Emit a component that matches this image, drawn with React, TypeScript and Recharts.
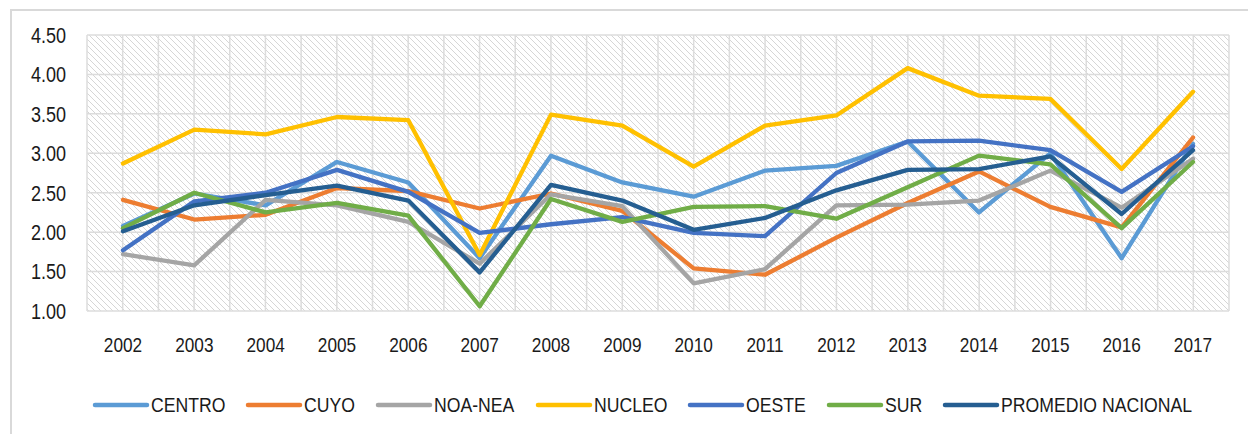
import React from "react";
import { LineChart, Line, XAxis, YAxis, CartesianGrid, Legend } from "recharts";

const YEARS = ["2002", "2003", "2004", "2005", "2006", "2007", "2008", "2009", "2010", "2011", "2012", "2013", "2014", "2015", "2016", "2017"];

const CENTRO = [2.08, 2.49, 2.34, 2.89, 2.63, 1.67, 2.97, 2.63, 2.45, 2.78, 2.84, 3.15, 2.25, 3.0, 1.67, 3.12];
const CUYO = [2.41, 2.16, 2.22, 2.56, 2.52, 2.3, 2.49, 2.27, 1.54, 1.46, 1.93, 2.37, 2.77, 2.32, 2.06, 3.2];
const NOA_NEA = [1.72, 1.58, 2.41, 2.34, 2.13, 1.6, 2.48, 2.33, 1.35, 1.53, 2.34, 2.35, 2.4, 2.78, 2.31, 2.93];
const NUCLEO = [2.87, 3.3, 3.24, 3.46, 3.42, 1.71, 3.49, 3.35, 2.83, 3.35, 3.48, 4.08, 3.73, 3.69, 2.8, 3.78];
const OESTE = [1.77, 2.39, 2.5, 2.79, 2.51, 1.99, 2.1, 2.19, 1.99, 1.95, 2.75, 3.15, 3.16, 3.04, 2.51, 3.09];
const SUR = [2.05, 2.5, 2.25, 2.37, 2.21, 1.06, 2.42, 2.13, 2.32, 2.33, 2.17, 2.57, 2.97, 2.86, 2.05, 2.89];
const PROMEDIO = [2.01, 2.34, 2.47, 2.59, 2.4, 1.49, 2.6, 2.4, 2.03, 2.18, 2.53, 2.79, 2.8, 2.96, 2.23, 3.04];

const Y_TICKS = [1, 1.5, 2, 2.5, 3, 3.5, 4, 4.5];

const SERIES = [
  { key: "CENTRO", label: "CENTRO", values: CENTRO, color: "#5B9BD5" },
  { key: "CUYO", label: "CUYO", values: CUYO, color: "#ED7D31" },
  { key: "NOA_NEA", label: "NOA-NEA", values: NOA_NEA, color: "#A5A5A5" },
  { key: "NUCLEO", label: "NUCLEO", values: NUCLEO, color: "#FFC000" },
  { key: "OESTE", label: "OESTE", values: OESTE, color: "#4472C4" },
  { key: "SUR", label: "SUR", values: SUR, color: "#70AD47" },
  { key: "PROMEDIO", label: "PROMEDIO NACIONAL", values: PROMEDIO, color: "#255E91" },
];

const data = YEARS.map((year, i) => {
  const row: Record<string, string | number> = { year };
  SERIES.forEach((s) => {
    row[s.key] = s.values[i];
  });
  return row;
});

// no narrow font installed, so squeeze Liberation Sans horizontally
const FONT = '"Liberation Sans", Arial, sans-serif';
const SQUEEZE = 0.82;
const LEGEND_SQUEEZE = 0.84;
const GRID = "#DCDCDC";
const TEXT = "#1a1a1a";

let measureCtx: CanvasRenderingContext2D | null = null;
function textWidth(s: string, size: number) {
  if (!measureCtx) measureCtx = document.createElement("canvas").getContext("2d");
  if (!measureCtx) return s.length * size * 0.6;
  measureCtx.font = `${size}px ${FONT}`;
  return measureCtx.measureText(s).width;
}

function XTick({ x, y, payload }: any) {
  return (
    <g transform={`translate(${x},${y + 25}) scale(${SQUEEZE},1)`}>
      <text x={0} y={0} dy="0.36em" textAnchor="middle" fontFamily={FONT} fontSize={21} fill={TEXT}>
        {payload.value}
      </text>
    </g>
  );
}

function YTick({ x, y, payload }: any) {
  return (
    <g transform={`translate(${x},${y}) scale(${SQUEEZE},1)`}>
      <text x={0} y={0} dy="0.36em" textAnchor="end" fontFamily={FONT} fontSize={22} fill={TEXT}>
        {Number(payload.value).toFixed(2)}
      </text>
    </g>
  );
}

function LegendContent() {
  const size = 21;
  return (
    <div style={{ display: "flex", alignItems: "center", paddingLeft: 92, fontFamily: FONT, fontSize: size, color: TEXT, height: 24 }}>
      {SERIES.map((s) => {
        const w = textWidth(s.label, size) * LEGEND_SQUEEZE;
        return (
          <div key={s.key} style={{ display: "flex", alignItems: "center", marginRight: 20 }}>
            <svg width={59} height={8} style={{ display: "block" }}>
              <line x1={3} y1={4} x2={55} y2={4} stroke={s.color} strokeWidth={4.5} strokeLinecap="round" />
            </svg>
            <div style={{ width: w, height: 24, position: "relative" }}>
              <span
                style={{
                  position: "absolute",
                  left: 0,
                  top: 0,
                  lineHeight: "24px",
                  whiteSpace: "nowrap",
                  transform: `scaleX(${LEGEND_SQUEEZE})`,
                  transformOrigin: "left center",
                }}
              >
                {s.label}
              </span>
            </div>
          </div>
        );
      })}
    </div>
  );
}

export default function App() {
  return (
    <div style={{ position: "absolute", left: 0, top: 0, width: 1248, height: 434, background: "#fff", overflow: "hidden" }}>
      <div
        style={{
          position: "absolute",
          left: 10,
          top: 9,
          width: 1300,
          height: 500,
          borderLeft: "2px solid #D9D9D9",
          borderTop: "2px solid #D9D9D9",
        }}
      />
      <div style={{ position: "absolute", left: 0, top: 0 }}>
        <LineChart width={1248} height={434} data={data} margin={{ top: 35, right: 19, left: 0, bottom: 93 }}>
          <defs>
            <pattern id="hatch" width={6} height={6} patternUnits="userSpaceOnUse">
              <rect width={6} height={6} fill="#ffffff" />
              <path d="M0,0 L6,6 M-1,5 L1,7 M5,-1 L7,1" stroke="#D6D6D6" strokeWidth={1} />
            </pattern>
          </defs>
          <CartesianGrid
            fill="url(#hatch)"
            stroke={GRID}
            strokeWidth={1.5}
            verticalCoordinatesGenerator={({ offset }: any) =>
              Array.from({ length: 33 }, (_, k) => offset.left + (k * offset.width) / 32)
            }
          />
          <XAxis
            dataKey="year"
            padding={{ left: 36, right: 36 }}
            axisLine={false}
            tickLine={false}
            height={30}
            tick={<XTick />}
            interval={0}
          />
          <YAxis
            width={87}
            domain={[1, 4.5]}
            ticks={Y_TICKS}
            axisLine={false}
            tickLine={false}
            tickSize={0}
            tickMargin={21}
            tick={<YTick />}
            interval={0}
          />
          <Legend verticalAlign="middle" align="center" content={<LegendContent />} wrapperStyle={{ left: 0, top: 393, width: 1248 }} />
          {SERIES.map((s) => (
            <Line
              key={s.key}
              type="linear"
              dataKey={s.key}
              name={s.label}
              stroke={s.color}
              strokeWidth={4.3}
              strokeLinejoin="round"
              strokeLinecap="round"
              dot={false}
              activeDot={false}
              isAnimationActive={false}
            />
          ))}
        </LineChart>
      </div>
    </div>
  );
}
